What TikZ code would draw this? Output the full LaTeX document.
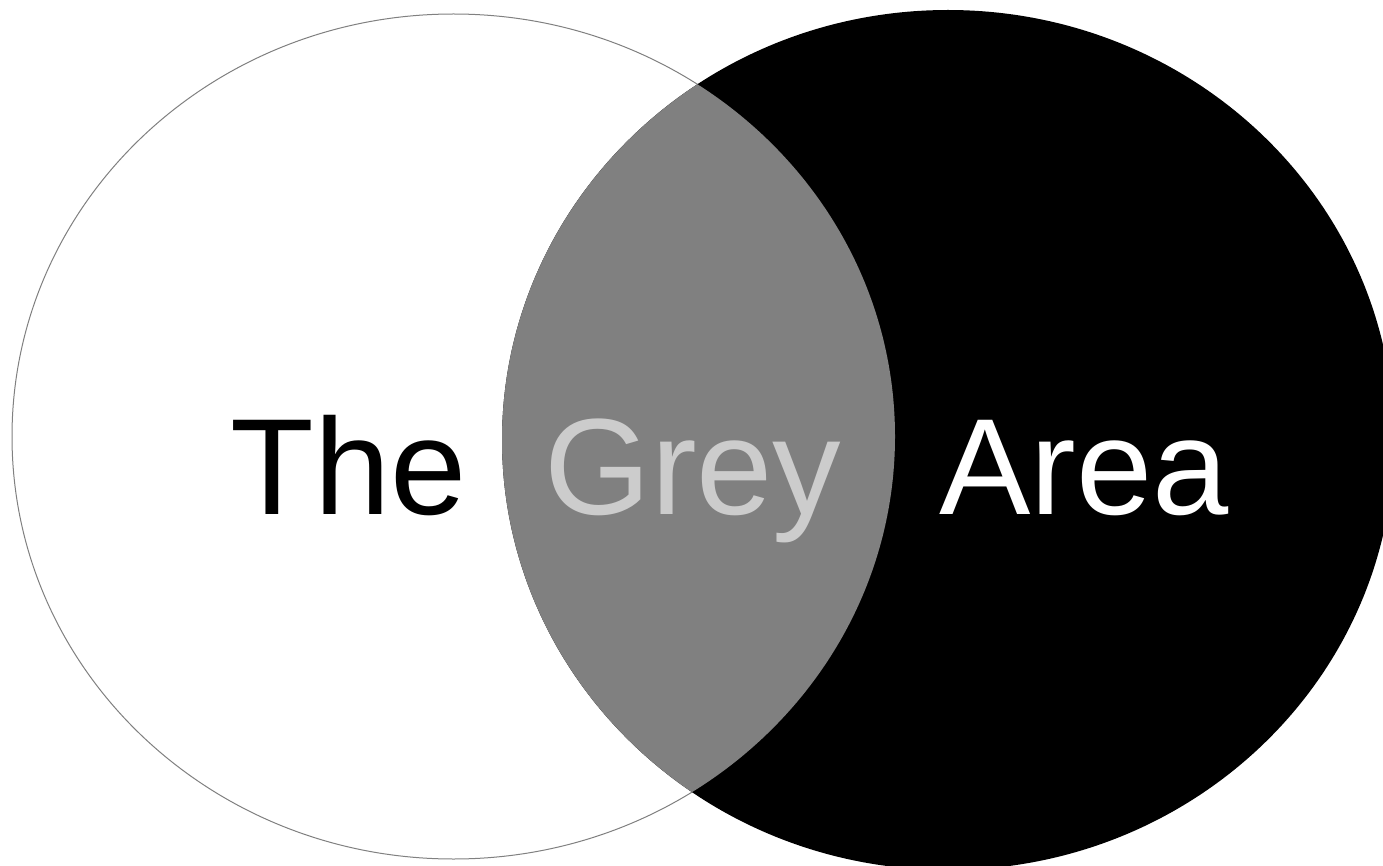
\documentclass[tikz,border=0pt]{standalone}
\usepackage{fontspec}
\setmainfont{Liberation Sans}
\definecolor{lensgrey}{HTML}{808080}
\definecolor{textgrey}{HTML}{CCCCCC}
\begin{document}
\begin{tikzpicture}[x=1pt,y=-1pt,
  label/.style={anchor=base,inner sep=0pt,font=\fontsize{137}{164}\selectfont}]
\useasboundingbox (0,0) rectangle (1383,866);
\clip (0,0) rectangle (1383,866);
\fill[white] (0,0) rectangle (1383,866);
% left set
\filldraw[fill=white,draw=lensgrey,line width=1pt] (453.5,436.5) ellipse [x radius=441.5pt, y radius=422.5pt];
% right set
\fill[black] (948,440) ellipse [x radius=446pt, y radius=430pt];
% intersection
\begin{scope}
  \clip (453.5,436.5) ellipse [x radius=441.5pt, y radius=422.5pt];
  \fill[lensgrey] (948,440) ellipse [x radius=446pt, y radius=430pt];
\end{scope}
\node[label,text=black] (the) at (349,514) {The};
\node[label,text=textgrey] (grey) at (693,514) {Grey};
\node[label,text=white] (area) at (1084,514) {Area};
\end{tikzpicture}
\end{document}
